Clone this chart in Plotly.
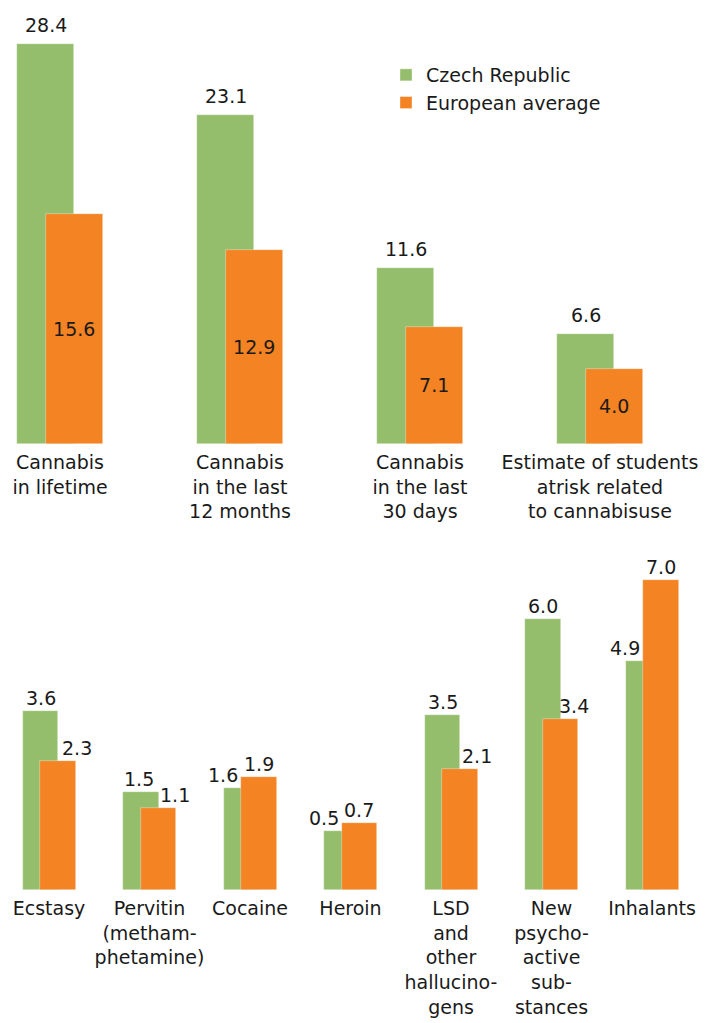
import plotly.graph_objects as go

# ---------------- data ----------------
top_categories = ["Cannabis in lifetime", "Cannabis in the last 12 months",
                  "Cannabis in the last 30 days",
                  "Estimate of students atrisk related to cannabisuse"]
top_ticktext = ["Cannabis<br>in lifetime", "Cannabis<br>in the last<br>12 months",
                "Cannabis<br>in the last<br>30 days",
                "Estimate of students<br>atrisk related<br>to cannabisuse"]
top_czech = [28.4, 23.1, 11.6, 6.6]
top_europe = [15.6, 12.9, 7.1, 4.0]

bottom_categories = ["Ecstasy", "Pervitin (methamphetamine)", "Cocaine", "Heroin",
                     "LSD and other hallucinogens", "New psychoactive substances",
                     "Inhalants"]
bottom_ticktext = ["Ecstasy", "Pervitin<br>(metham-<br>phetamine)", "Cocaine", "Heroin",
                   "LSD<br>and<br>other<br>hallucino-<br>gens",
                   "New<br>psycho-<br>active<br>sub-<br>stances", "Inhalants"]
bottom_czech = [3.6, 1.5, 1.6, 0.5, 3.5, 6.0, 4.9]
bottom_europe = [2.3, 1.1, 1.9, 0.7, 2.1, 3.4, 7.0]

series_names = ["Czech Republic", "European average"]

# ---------------- style ----------------
W, H = 715, 1023
GREEN = "#94BE6C"
ORANGE = "#F38323"
TXT = "#1a1a1a"
FONT = "DejaVu Sans"
FS = 19

top_base = -1.67
top_ppu = 13.3
bot_base = -1.04
bot_ppu = 38.5

tg_off, tg_w = -0.239, 0.317
to_off, to_w = -0.078, 0.317
bg_off, bg_w = -0.262, 0.355
bo_off, bo_w = -0.0896, 0.355

# label horizontal shifts (px) for bottom chart
bot_green_shift = [0, -2, -19, -18, 0, 0, -19]
bot_orange_shift = [19, 17, 0, 0, 17, 14, 0]

fig = go.Figure()

bar_line = dict(color="rgba(255,255,255,0.6)", width=0.6)

fig.add_trace(go.Bar(x=top_categories, y=[v - top_base for v in top_czech], base=top_base,
                     offset=tg_off, width=tg_w, marker=dict(color=GREEN, line=bar_line),
                     name=series_names[0], xaxis="x", yaxis="y", hoverinfo="skip"))
fig.add_trace(go.Bar(x=top_categories, y=[v - top_base for v in top_europe], base=top_base,
                     offset=to_off, width=to_w, marker=dict(color=ORANGE, line=bar_line),
                     name=series_names[1], xaxis="x", yaxis="y",
                     text=[f"{v:.1f}" for v in top_europe], textposition="inside",
                     insidetextanchor="middle", textangle=0,
                     textfont=dict(family=FONT, size=FS, color=TXT), hoverinfo="skip"))

fig.add_trace(go.Bar(x=bottom_categories, y=[v - bot_base for v in bottom_czech], base=bot_base,
                     offset=bg_off, width=bg_w, marker=dict(color=GREEN, line=bar_line),
                     name=series_names[0], xaxis="x2", yaxis="y2", showlegend=False,
                     hoverinfo="skip"))
fig.add_trace(go.Bar(x=bottom_categories, y=[v - bot_base for v in bottom_europe], base=bot_base,
                     offset=bo_off, width=bo_w, marker=dict(color=ORANGE, line=bar_line),
                     name=series_names[1], xaxis="x2", yaxis="y2", showlegend=False,
                     hoverinfo="skip"))

annotations = []
for i, v in enumerate(top_czech):
    annotations.append(dict(x=i + tg_off + tg_w / 2, y=v, xref="x", yref="y",
                            text=f"{v:.1f}", showarrow=False, yanchor="bottom",
                            yshift=6, font=dict(family=FONT, size=FS, color=TXT)))
for i, v in enumerate(bottom_czech):
    annotations.append(dict(x=i + bg_off + bg_w / 2, y=v, xref="x2", yref="y2",
                            text=f"{v:.1f}", showarrow=False, yanchor="bottom",
                            xshift=bot_green_shift[i], yshift=0,
                            font=dict(family=FONT, size=FS, color=TXT)))
for i, v in enumerate(bottom_europe):
    annotations.append(dict(x=i + bo_off + bo_w / 2, y=v, xref="x2", yref="y2",
                            text=f"{v:.1f}", showarrow=False, yanchor="bottom",
                            xshift=bot_orange_shift[i], yshift=0,
                            font=dict(family=FONT, size=FS, color=TXT)))

axis_common = dict(showgrid=False, zeroline=False, showline=False, ticks="",
                   automargin=False, ticklabelstandoff=5,
                   tickfont=dict(family=FONT, size=FS, color=TXT))

fig.update_layout(
    width=W, height=H, margin=dict(l=0, r=0, t=0, b=0),
    paper_bgcolor="white", plot_bgcolor="white",
    barmode="overlay", bargap=0,
    font=dict(family=FONT, size=FS, color=TXT),
    xaxis=dict(domain=[0, 1], anchor="y", type="category",
               range=[-60 / 180, 655 / 180],
               tickvals=top_categories, ticktext=top_ticktext, **axis_common),
    yaxis=dict(domain=[1 - 444 / H, 1 - 10 / H], anchor="x",
               range=[top_base, top_base + 434 / top_ppu], showticklabels=False,
               showgrid=False, zeroline=False, showline=False),
    xaxis2=dict(domain=[0, 1], anchor="y2", type="category",
                range=[-49 / 100.5, 666 / 100.5],
                tickvals=bottom_categories, ticktext=bottom_ticktext, **axis_common),
    yaxis2=dict(domain=[1 - 890 / H, 1 - 560 / H], anchor="x2",
                range=[bot_base, bot_base + 330 / bot_ppu], showticklabels=False,
                showgrid=False, zeroline=False, showline=False),
    legend=dict(x=386 / W, y=1 - 56 / H, xanchor="left", yanchor="top",
                bgcolor="rgba(0,0,0,0)", font=dict(family=FONT, size=FS, color=TXT),
                tracegroupgap=0),
    annotations=annotations,
)

fig.write_html("out.html", config={"displayModeBar": False},
               post_script="document.body.style.margin='0px';")
